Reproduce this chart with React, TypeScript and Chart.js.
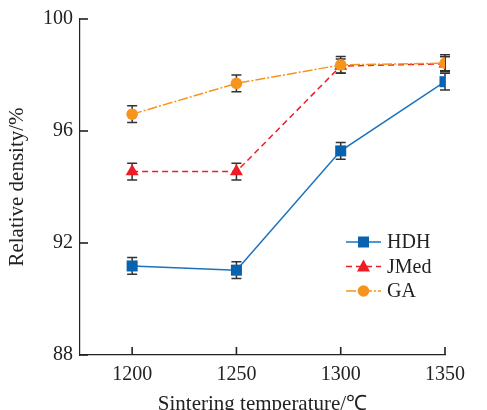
import React, { useEffect, useRef } from "react";
import { Chart, registerables } from "chart.js";

Chart.register(...registerables);

const temps = [1200, 1250, 1300, 1350];
const xTicks = [1200, 1250, 1300, 1350];
const yTicks = [88, 92, 96, 100];
const hdh = [91.18, 91.03, 95.29, 97.76];
const jmed = [94.55, 94.55, 98.32, 98.4];
const ga = [96.6, 97.7, 98.36, 98.42];
const hdhErr = [0.3, 0.3, 0.3, 0.3];
const jmedErr = [0.3, 0.3, 0.25, 0.25];
const gaErr = [0.3, 0.3, 0.3, 0.3];
const seriesNames = ["HDH", "JMed", "GA"];

const FONT = "'Liberation Serif', 'Times New Roman', serif";
const BLUE = "#0763b0";
const BLUE_LINE = "#1a72bf";
const RED = "#ee1c25";
const ORANGE = "#f7941e";

function drawMarker(ctx: CanvasRenderingContext2D, style: string, x: number, y: number, color: string) {
  ctx.save();
  ctx.fillStyle = color;
  ctx.beginPath();
  if (style === "rect") {
    ctx.rect(x - 5.5, y - 5.5, 11, 11);
  } else if (style === "triangle") {
    ctx.moveTo(x, y - 7);
    ctx.lineTo(x + 6.5, y + 5);
    ctx.lineTo(x - 6.5, y + 5);
    ctx.closePath();
  } else {
    ctx.arc(x, y, 5.8, 0, Math.PI * 2);
  }
  ctx.fill();
  ctx.restore();
}

const errorBars = {
  id: "errorBars",
  beforeDatasetsDraw(chart: any) {
    const ctx = chart.ctx;
    const ys = chart.scales.y;
    ctx.save();
    ctx.strokeStyle = "#333";
    ctx.lineWidth = 1.5;
    chart.data.datasets.forEach((ds: any, i: number) => {
      const meta = chart.getDatasetMeta(i);
      meta.data.forEach((pt: any, j: number) => {
        const v = ds.data[j].y;
        const e = ds.err[j];
        const y1 = ys.getPixelForValue(v + e);
        const y2 = ys.getPixelForValue(v - e);
        const x = pt.x;
        ctx.beginPath();
        ctx.moveTo(x, y1);
        ctx.lineTo(x, y2);
        ctx.moveTo(x - 5, y1);
        ctx.lineTo(x + 5, y1);
        ctx.moveTo(x - 5, y2);
        ctx.lineTo(x + 5, y2);
        ctx.stroke();
      });
    });
    ctx.restore();
  },
};

const customLegend = {
  id: "customLegend",
  afterDraw(chart: any) {
    const ctx = chart.ctx;
    const a = chart.chartArea;
    const xs = chart.scales.x;
    const ys = chart.scales.y;

    // inward axis ticks
    ctx.save();
    ctx.fillStyle = "#222";
    xTicks.forEach((v) => {
      const px = xs.getPixelForValue(v);
      ctx.fillRect(px - 0.8, a.bottom - 8, 1.6, 8);
    });
    yTicks.forEach((v) => {
      const py = ys.getPixelForValue(v);
      ctx.fillRect(a.left, py - 0.8, 8, 1.6);
    });
    ctx.restore();

    const x0 = a.right - 99;
    const y0 = a.top + 223;
    const order = [2, 1, 0];
    ctx.save();
    order.forEach((di, k) => {
      const ds = chart.data.datasets[di];
      const yy = y0 + k * 24.5;
      ctx.strokeStyle = ds.borderColor;
      ctx.lineWidth = 1.5;
      ctx.setLineDash(ds.borderDash || []);
      ctx.beginPath();
      ctx.moveTo(x0, yy);
      ctx.lineTo(x0 + 35, yy);
      ctx.stroke();
      ctx.setLineDash([]);
      drawMarker(ctx, ds.pointStyle, x0 + 17.5, yy, ds.backgroundColor);
      ctx.fillStyle = "#222";
      ctx.font = `20px ${FONT}`;
      ctx.textBaseline = "middle";
      ctx.textAlign = "left";
      ctx.fillText(ds.label, x0 + 41, yy + 1);
    });
    ctx.restore();
  },
};

export default function App() {
  const ref = useRef<HTMLCanvasElement>(null);
  useEffect(() => {
    const mk = (vals: number[]) => temps.map((t, i) => ({ x: t, y: vals[i] }));
    const chart = new Chart(ref.current!, {
      type: "line",
      data: {
        datasets: [
          {
            label: seriesNames[2],
            data: mk(ga),
            err: gaErr,
            borderColor: ORANGE,
            backgroundColor: ORANGE,
            borderWidth: 1.5,
            borderDash: [10, 2, 2, 2],
            pointStyle: "circle",
            pointRadius: 5.8,
            pointBorderWidth: 0,
            order: 0,
          } as any,
          {
            label: seriesNames[1],
            data: mk(jmed),
            err: jmedErr,
            borderColor: RED,
            backgroundColor: RED,
            borderWidth: 1.5,
            borderDash: [6, 4],
            pointStyle: "triangle",
            pointRadius: 7.5,
            pointBorderWidth: 0,
            order: 1,
          } as any,
          {
            label: seriesNames[0],
            data: mk(hdh),
            err: hdhErr,
            borderColor: BLUE_LINE,
            backgroundColor: BLUE,
            borderWidth: 1.5,
            pointStyle: "rect",
            pointRadius: 7.8,
            pointBorderWidth: 0,
            order: 2,
          } as any,
        ],
      },
      options: {
        animation: false,
        responsive: false,
        layout: { padding: { top: 19, right: 42, left: 0, bottom: 0 } },
        plugins: { legend: { display: false }, tooltip: { enabled: false } },
        scales: {
          x: {
            type: "linear",
            min: 1175,
            max: 1350,
            afterBuildTicks: (s: any) => {
              s.ticks = xTicks.map((v) => ({ value: v }));
            },
            afterFit: (s: any) => {
              s.height = 55;
            },
            grid: { drawOnChartArea: false, drawTicks: false },
            border: { display: true, color: "#222", width: 1.2 },
            ticks: {
              padding: 8,
              color: "#222",
              font: { family: FONT, size: 20 },
              callback: (v: any) => String(v),
            },
            title: {
              display: true,
              text: "Sintering temperature/℃",
              color: "#222",
              font: { family: FONT, size: 21 },
              padding: { top: 0, bottom: -7 },
            },
          },
          y: {
            type: "linear",
            min: 88,
            max: 100,
            afterBuildTicks: (s: any) => {
              s.ticks = yTicks.map((v) => ({ value: v }));
            },
            afterFit: (s: any) => {
              s.width = 80;
            },
            grid: { drawOnChartArea: false, drawTicks: false },
            border: { display: true, color: "#222", width: 1.2 },
            ticks: {
              padding: 7,
              color: "#222",
              font: { family: FONT, size: 20 },
              callback: (v: any) => String(v),
            },
            title: {
              display: true,
              text: "Relative density/%",
              color: "#222",
              font: { family: FONT, size: 21 },
              padding: { top: 5, bottom: 0 },
            },
          },
        },
      } as any,
      plugins: [errorBars, customLegend],
    });
    return () => chart.destroy();
  }, []);
  return (
    <div style={{ position: "absolute", left: 0, top: 0, width: 487, height: 410, background: "#fff" }}>
      <canvas ref={ref} width={487} height={410} style={{ width: 487, height: 410 }} />
    </div>
  );
}
